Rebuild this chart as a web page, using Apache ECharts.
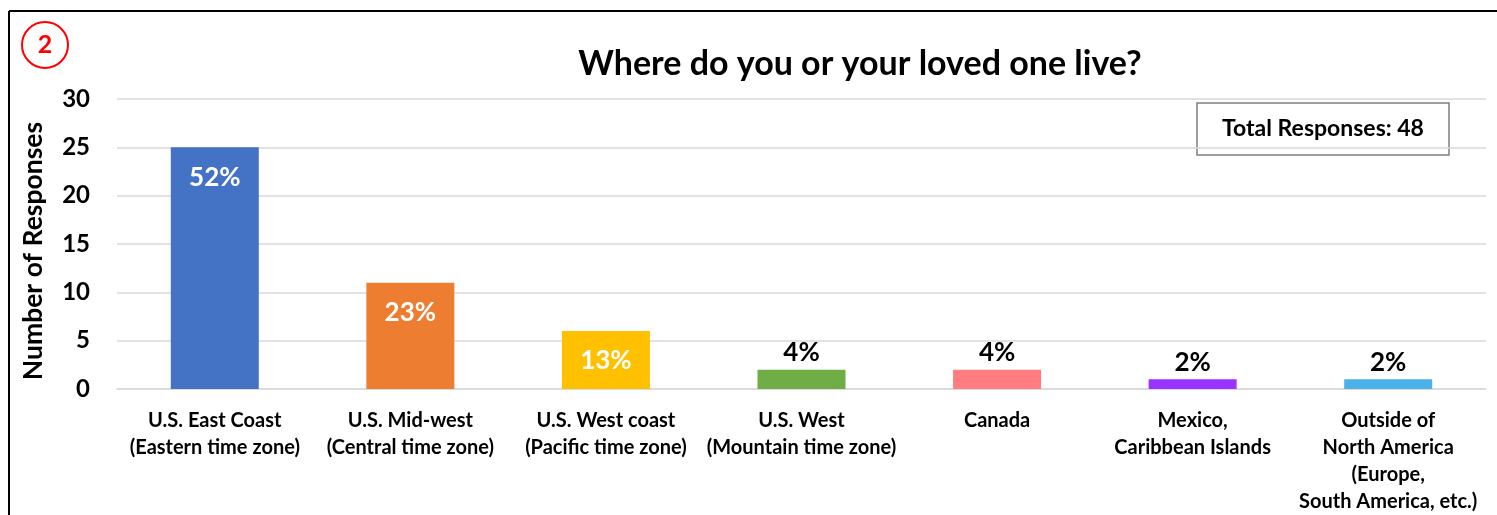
<!DOCTYPE html>
<html>
<head>
<meta charset="utf-8">
<script src="https://cdn.jsdelivr.net/npm/echarts@6/dist/echarts.min.js"></script>
<style>
  html, body { margin: 0; padding: 0; background: #fff; }
  #chart { width: 1497px; height: 515px; }
</style>
</head>
<body>
<div id="chart"></div>
<script>
// Survey answers: where respondents (or their loved ones) live
const categories = [
  'U.S. East Coast\n(Eastern time zone)',
  'U.S. Mid-west\n(Central time zone)',
  'U.S. West coast\n(Pacific time zone)',
  'U.S. West\n(Mountain time zone)',
  'Canada',
  'Mexico,\nCaribbean Islands',
  'Outside of\nNorth America\n(Europe,\nSouth America, etc.)'
];
const responses = [25, 11, 6, 2, 2, 1, 1];
const barColors = ['#4472C4', '#ED7D31', '#FFC000', '#70AD47', '#FF7C80', '#9933FF', '#4BB1EA'];
const insideLabel = [true, true, true, false, false, false, false];
const yTicks = [0, 5, 10, 15, 20, 25, 30];

const total = responses.reduce((a, b) => a + b, 0);
const FONT = 'Lato, "Noto Sans", sans-serif';

const chart = echarts.init(document.getElementById('chart'), null, { renderer: 'canvas' });

const data = responses.map((v, i) => ({
  value: v,
  itemStyle: { color: barColors[i] },
  label: insideLabel[i]
    ? { position: 'insideTop', distance: 17, color: '#fff' }
    : { position: 'top', distance: 4, color: '#000' }
}));

chart.setOption({
  animation: false,
  backgroundColor: '#fff',
  title: {
    text: 'Where do you or your loved one live?',
    left: 855, top: 42, textAlign: 'center',
    textStyle: { fontFamily: FONT, fontWeight: 'bold', fontSize: 34, color: '#000' }
  },
  grid: { left: 117, right: 11, top: 99, bottom: 121, containLabel: false },
  xAxis: {
    type: 'category',
    data: categories,
    axisLine: { lineStyle: { color: '#d9d9d9', width: 1.5 } },
    axisTick: { show: false },
    axisLabel: {
      interval: 0, margin: 18, lineHeight: 27,
      fontFamily: FONT, fontWeight: 'bold', fontSize: 20, color: '#000'
    }
  },
  yAxis: {
    type: 'value',
    min: yTicks[0], max: yTicks[yTicks.length - 1], interval: 5,
    name: 'Number of Responses',
    nameLocation: 'middle', nameRotate: 90, nameGap: 70,
    nameTextStyle: { fontFamily: FONT, fontWeight: 'bold', fontSize: 26.5, color: '#000', padding: [0, 14, 0, 0] },
    axisLine: { show: false },
    axisTick: { show: false },
    axisLabel: { margin: 27, fontFamily: FONT, fontWeight: 'bold', fontSize: 24, color: '#000' },
    splitLine: { lineStyle: { color: '#d9d9d9', width: 1.5 } }
  },
  series: [{
    type: 'bar',
    data: data,
    barWidth: 88,
    label: {
      show: true,
      fontFamily: FONT, fontWeight: 'bold', fontSize: 26,
      formatter: p => Math.round(p.value / total * 100) + '%'
    }
  }],
  graphic: [
    // frame: top and left edges
    { type: 'line', shape: { x1: 9, y1: 11, x2: 1497, y2: 11 }, style: { stroke: '#000', lineWidth: 2 } },
    { type: 'line', shape: { x1: 9, y1: 11, x2: 9, y2: 515 }, style: { stroke: '#000', lineWidth: 2 } },
    // numbered badge
    { type: 'circle', shape: { cx: 45, cy: 45, r: 23 }, style: { fill: '#fff', stroke: '#FF0000', lineWidth: 2 } },
    { type: 'text', x: 45, y: 45, style: {
        text: '2', fill: '#FF0000', font: 'bold 25px ' + FONT, align: 'center', verticalAlign: 'middle' } },
    // total responses box
    { type: 'rect', shape: { x: 1197, y: 103, width: 252, height: 52 }, style: { fill: '#fff', stroke: '#7f7f7f', lineWidth: 1.5 } },
    { type: 'text', x: 1323, y: 129, style: {
        text: 'Total Responses: ' + total, fill: '#000', font: 'bold 23px ' + FONT, align: 'center', verticalAlign: 'middle' } }
  ]
});
</script>
</body>
</html>
